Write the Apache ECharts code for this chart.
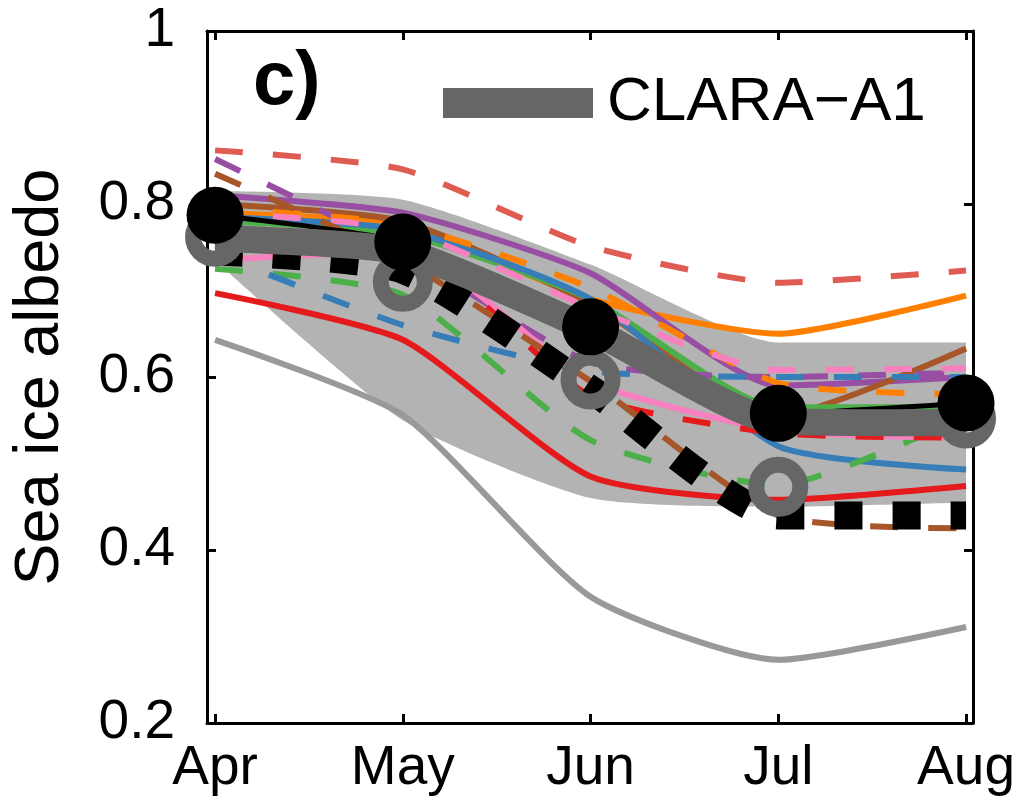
<!DOCTYPE html>
<html>
<head>
<meta charset="utf-8">
<script src="https://cdn.jsdelivr.net/npm/echarts@6/dist/echarts.min.js"></script>
<style>html,body{margin:0;padding:0;background:#fff}#c{width:1013px;height:802px}</style>
</head>
<body>
<div id="c"></div>
<script>
// ---- data ----
const months = ['Apr', 'May', 'Jun', 'Jul', 'Aug'];
const yTickValues = [0.2, 0.4, 0.6, 0.8, 1];
const yTickLabels = ['0.2', '0.4', '0.6', '0.8', '1'];

const bandLower   = [0.735, 0.55, 0.46, 0.45, 0.455];
const bandUpper   = [0.815, 0.805, 0.73, 0.64, 0.64];
const clara       = [0.76, 0.745, 0.655, 0.549, 0.547];
const obsCircles  = [0.787, 0.756, 0.658, 0.558, 0.57];
const openRings   = [0.762, 0.71, 0.597, 0.473, 0.552];
const blackDotted = [0.745, 0.724, 0.586, 0.44, 0.44];
const greySolid   = [0.643, 0.556, 0.346, 0.273, 0.311];
const redSolid    = [0.697, 0.643, 0.485, 0.458, 0.474];
const redDashTop  = [0.862, 0.840, 0.751, 0.709, 0.723];
const redDash2    = [0.74, 0.745, 0.578, 0.535, 0.53];
const orangeSolid = [0.79, 0.775, 0.69, 0.65, 0.694];
const orangeDash  = [0.795, 0.776, 0.703, 0.593, 0.58];
const purpleSolid = [0.81, 0.79, 0.72, 0.59, 0.60];
const purpleDash  = [0.852, 0.745, 0.617, 0.60, 0.605];
const brownSolid  = [0.80, 0.78, 0.685, 0.555, 0.633];
const brownDash   = [0.835, 0.735, 0.595, 0.44, 0.425];
const greenSolid  = [0.78, 0.765, 0.69, 0.565, 0.565];
const greenDash   = [0.725, 0.695, 0.527, 0.475, 0.555];
const blueSolid   = [0.785, 0.77, 0.69, 0.52, 0.493];
const blueDash    = [0.743, 0.66, 0.607, 0.60, 0.60];
const pinkSolid   = [0.735, 0.745, 0.595, 0.538, 0.53];
const pinkDash    = [0.79, 0.77, 0.68, 0.608, 0.61];

// ---- helpers ----
const FONT = 'Liberation Sans';
const pts = arr => arr.map((v, i) => [i, v]);
const SM = 0.2;
function thin(name, arr, color, dashed) {
  return {
    name, type: 'line', data: pts(arr), smooth: SM, symbol: 'none', z: 3,
    lineStyle: { color, width: 6, type: dashed ? [28, 30] : 'solid', cap: 'butt' },
    silent: true
  };
}
function markers(name, arr, size, itemStyle) {
  return {
    name, type: 'line', data: pts(arr), symbol: 'circle', symbolSize: size,
    showSymbol: true, showAllSymbol: true, clip: false, z: 20,
    lineStyle: { width: 0, opacity: 0 }, itemStyle
  };
}

const chart = echarts.init(document.getElementById('c'), null, { renderer: 'canvas' });

const series = [
  // spread band: grey area down to axis, then white area under the lower edge
  { name: 'bandHigh', type: 'line', data: pts(bandUpper), smooth: SM, symbol: 'none', z: 1,
    lineStyle: { width: 0, opacity: 0 }, areaStyle: { color: '#b3b3b3', opacity: 1, origin: 'start' } },
  { name: 'bandLow', type: 'line', data: pts(bandLower), smooth: SM, symbol: 'none', z: 1,
    lineStyle: { width: 0, opacity: 0 }, areaStyle: { color: '#ffffff', opacity: 1, origin: 'start' } },
  thin('grey', greySolid, '#999999', false),
  thin('red', redSolid, '#e41a1c', false),
  thin('redDashTop', redDashTop, '#de5c52', true),
  thin('orange', orangeSolid, '#ff7f00', false),
  thin('purple', purpleSolid, '#984ea3', false),
  thin('brown', brownSolid, '#a65628', false),
  thin('green', greenSolid, '#4daf4a', false),
  thin('blue', blueSolid, '#377eb8', false),
  thin('purpleDash', purpleDash, '#984ea3', true),
  thin('orangeDash', orangeDash, '#ff7f00', true),
  thin('greenDash', greenDash, '#4daf4a', true),
  thin('blueDash', blueDash, '#377eb8', true),
  thin('pink', pinkSolid, '#f781bf', false),
  thin('redDash2', redDash2, '#e41a1c', true),
  thin('pinkDash', pinkDash, '#f781bf', true),
  thin('brownDash', brownDash, '#a65628', true),
  { name: 'blackDotted', type: 'line', data: pts(blackDotted), smooth: SM, symbol: 'none', z: 4,
    lineStyle: { color: '#000', width: 28, type: [28, 30], cap: 'butt' } },
  { name: 'obsLine', type: 'line', data: pts(obsCircles), smooth: SM, symbol: 'none', z: 5,
    lineStyle: { color: '#000', width: 5 } },
  { name: 'CLARA−A1', type: 'line', data: pts(clara), smooth: SM, symbol: 'none', z: 6,
    color: '#666666', itemStyle: { color: '#666666' },
    lineStyle: { color: '#666666', width: 27 } },
  markers('rings', openRings, 44, { color: 'rgba(0,0,0,0)', borderColor: '#666666', borderWidth: 16 }),
  markers('obs', obsCircles, 57, { color: '#000000', borderWidth: 0 })
];

const axisLine = { show: true, onZero: false, lineStyle: { color: '#000', width: 3 } };
const tick = { show: true, inside: true, length: 9, lineStyle: { color: '#000', width: 3 } };

chart.setOption({
  animation: false,
  backgroundColor: '#fff',
  title: { text: 'c)', left: 253, top: 45, padding: 0,
    textStyle: { fontFamily: FONT, fontSize: 76, fontWeight: 'bold', color: '#000' } },
  legend: {
    data: ['CLARA−A1'], left: 443, top: 72, padding: 0, icon: 'rect',
    itemWidth: 150, itemHeight: 30, selectedMode: false,
    textStyle: { fontFamily: FONT, fontSize: 62, color: '#000', lineHeight: 62, padding: [0, 0, 0, 9] }
  },
  grid: { left: 207, right: 40, top: 31, bottom: 79, containLabel: false, outerBoundsMode: 'none' },
  xAxis: [
    { type: 'value', min: -0.043, max: 4.037, position: 'bottom', z: 10,
      axisLine, splitLine: { show: false },
      axisTick: Object.assign({ customValues: [0, 1, 2, 3, 4] }, tick),
      axisLabel: { customValues: [0, 1, 2, 3, 4], formatter: v => months[Math.round(v)],
        fontFamily: FONT, fontSize: 55, color: '#000', margin: 18, hideOverlap: false } },
    { type: 'value', min: -0.043, max: 4.037, position: 'top', z: 10,
      axisLine, splitLine: { show: false },
      axisTick: Object.assign({ customValues: [0, 1, 2, 3, 4] }, tick),
      axisLabel: { show: false } }
  ],
  yAxis: [
    { type: 'value', min: 0.2, max: 1, position: 'left', z: 10,
      axisLine, splitLine: { show: false },
      axisTick: Object.assign({ customValues: yTickValues }, tick),
      axisLabel: { customValues: yTickValues,
        formatter: v => yTickLabels[yTickValues.findIndex(t => Math.abs(t - v) < 1e-6)],
        fontFamily: FONT, fontSize: 55, color: '#000', margin: 32 },
      name: 'Sea ice albedo', nameLocation: 'middle', nameGap: 135, nameMoveOverlap: false,
      nameTextStyle: { fontFamily: FONT, fontSize: 63, color: '#000' } },
    { type: 'value', min: 0.2, max: 1, position: 'right', z: 10,
      axisLine, splitLine: { show: false },
      axisTick: Object.assign({ customValues: yTickValues }, tick),
      axisLabel: { show: false } }
  ],
  series
});
</script>
</body>
</html>
